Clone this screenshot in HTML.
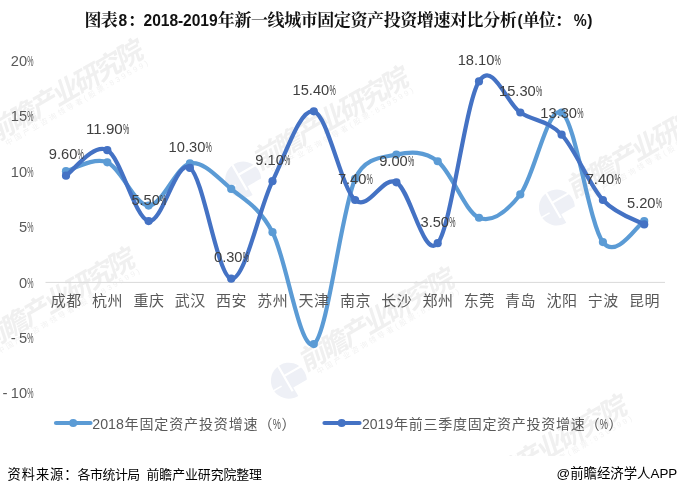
<!DOCTYPE html>
<html><head><meta charset="utf-8"><title>chart</title>
<style>
html,body{margin:0;padding:0;background:#fff}
#wrap{position:relative;width:677px;height:494px;overflow:hidden;background:#fff}
svg{position:absolute;left:0;top:0;display:block}
</style></head><body><div id="wrap">
<svg width="677" height="494" viewBox="0 0 677 494">
<rect width="677" height="494" fill="#fff"/>
<g id="wm">
<g transform="translate(1.5,128.1) rotate(-30)"><g transform="translate(-32.7,9.2)"><circle cx="0" cy="0" r="18" fill="#eef0f6"/><path d="M-2,-19 L-2,11" stroke="#fff" stroke-width="2.2" fill="none"/><path d="M-2,-6.5 L19,-6.5" stroke="#fff" stroke-width="2.2" fill="none"/><path d="M-19,1 L-9,1" stroke="#fff" stroke-width="1.6" fill="none"/><rect x="0.5" y="8" width="20" height="12" fill="#fff"/></g><text transform="skewX(-12)" x="-12" y="9.5" font-family="'Liberation Sans', 'Noto Sans CJK SC', sans-serif" font-weight="bold" font-size="27" textLength="174" fill="#f0f0f0">前瞻产业研究院</text><text x="-4" y="18.5" font-family="'Liberation Sans', 'Noto Sans CJK SC', sans-serif" font-size="7.5" textLength="163" fill="#f2f2f2">中国产业咨询领导者(股票:839599)</text></g>
<g transform="translate(266.9,155.3) rotate(-30)"><g transform="translate(-32.7,9.2)"><circle cx="0" cy="0" r="18" fill="#eef0f6"/><path d="M-2,-19 L-2,11" stroke="#fff" stroke-width="2.2" fill="none"/><path d="M-2,-6.5 L19,-6.5" stroke="#fff" stroke-width="2.2" fill="none"/><path d="M-19,1 L-9,1" stroke="#fff" stroke-width="1.6" fill="none"/><rect x="0.5" y="8" width="20" height="12" fill="#fff"/></g><text transform="skewX(-12)" x="-12" y="9.5" font-family="'Liberation Sans', 'Noto Sans CJK SC', sans-serif" font-weight="bold" font-size="27" textLength="174" fill="#f0f0f0">前瞻产业研究院</text><text x="-4" y="18.5" font-family="'Liberation Sans', 'Noto Sans CJK SC', sans-serif" font-size="7.5" textLength="163" fill="#f2f2f2">中国产业咨询领导者(股票:839599)</text></g>
<g transform="translate(580.6,183.2) rotate(-30)"><g transform="translate(-32.7,9.2)"><circle cx="0" cy="0" r="18" fill="#eef0f6"/><path d="M-2,-19 L-2,11" stroke="#fff" stroke-width="2.2" fill="none"/><path d="M-2,-6.5 L19,-6.5" stroke="#fff" stroke-width="2.2" fill="none"/><path d="M-19,1 L-9,1" stroke="#fff" stroke-width="1.6" fill="none"/><rect x="0.5" y="8" width="20" height="12" fill="#fff"/></g><text transform="skewX(-12)" x="-12" y="9.5" font-family="'Liberation Sans', 'Noto Sans CJK SC', sans-serif" font-weight="bold" font-size="27" textLength="174" fill="#f0f0f0">前瞻产业研究院</text><text x="-4" y="18.5" font-family="'Liberation Sans', 'Noto Sans CJK SC', sans-serif" font-size="7.5" textLength="163" fill="#f2f2f2">中国产业咨询领导者(股票:839599)</text></g>
<g transform="translate(-6.8,336.2) rotate(-30)"><g transform="translate(-32.7,9.2)"><circle cx="0" cy="0" r="18" fill="#eef0f6"/><path d="M-2,-19 L-2,11" stroke="#fff" stroke-width="2.2" fill="none"/><path d="M-2,-6.5 L19,-6.5" stroke="#fff" stroke-width="2.2" fill="none"/><path d="M-19,1 L-9,1" stroke="#fff" stroke-width="1.6" fill="none"/><rect x="0.5" y="8" width="20" height="12" fill="#fff"/></g><text transform="skewX(-12)" x="-12" y="9.5" font-family="'Liberation Sans', 'Noto Sans CJK SC', sans-serif" font-weight="bold" font-size="27" textLength="174" fill="#f0f0f0">前瞻产业研究院</text><text x="-4" y="18.5" font-family="'Liberation Sans', 'Noto Sans CJK SC', sans-serif" font-size="7.5" textLength="163" fill="#f2f2f2">中国产业咨询领导者(股票:839599)</text></g>
<g transform="translate(312.6,356.4) rotate(-30)"><g transform="translate(-32.7,9.2)"><circle cx="0" cy="0" r="18" fill="#eef0f6"/><path d="M-2,-19 L-2,11" stroke="#fff" stroke-width="2.2" fill="none"/><path d="M-2,-6.5 L19,-6.5" stroke="#fff" stroke-width="2.2" fill="none"/><path d="M-19,1 L-9,1" stroke="#fff" stroke-width="1.6" fill="none"/><rect x="0.5" y="8" width="20" height="12" fill="#fff"/></g><text transform="skewX(-12)" x="-12" y="9.5" font-family="'Liberation Sans', 'Noto Sans CJK SC', sans-serif" font-weight="bold" font-size="27" textLength="174" fill="#f0f0f0">前瞻产业研究院</text><text x="-4" y="18.5" font-family="'Liberation Sans', 'Noto Sans CJK SC', sans-serif" font-size="7.5" textLength="163" fill="#f2f2f2">中国产业咨询领导者(股票:839599)</text></g>
<g transform="translate(485.4,483.5) rotate(-30)"><g transform="translate(-32.7,9.2)"><circle cx="0" cy="0" r="18" fill="#eef0f6"/><path d="M-2,-19 L-2,11" stroke="#fff" stroke-width="2.2" fill="none"/><path d="M-2,-6.5 L19,-6.5" stroke="#fff" stroke-width="2.2" fill="none"/><path d="M-19,1 L-9,1" stroke="#fff" stroke-width="1.6" fill="none"/><rect x="0.5" y="8" width="20" height="12" fill="#fff"/></g><text transform="skewX(-12)" x="-12" y="9.5" font-family="'Liberation Sans', 'Noto Sans CJK SC', sans-serif" font-weight="bold" font-size="27" textLength="174" fill="#f0f0f0">前瞻产业研究院</text><text x="-4" y="18.5" font-family="'Liberation Sans', 'Noto Sans CJK SC', sans-serif" font-size="7.5" textLength="163" fill="#f2f2f2">中国产业咨询领导者(股票:839599)</text></g>
</g>
<rect x="0" y="456" width="677" height="38" fill="#fff"/>
<g font-weight="bold" fill="#111">
<g font-family="'Liberation Serif', 'Noto Serif CJK SC', serif" font-size="17">
<text x="84.4" y="26.3" textLength="33.4">图表</text>
<text x="127.8" y="26.3">：</text>
<text x="217.8" y="26.3" textLength="299">年新一线城市固定资产投资增速对比分析</text>
<text x="522.8" y="26.3" textLength="49">单位：</text>
</g>
<g font-family="'Liberation Sans', sans-serif" font-size="15.6">
<text x="118.6" y="25.9">8</text>
<text x="143.6" y="25.9" textLength="74">2018-2019</text>
<text x="517.4" y="25.9">(</text>
<text x="573.8" y="25.9" textLength="13" lengthAdjust="spacingAndGlyphs">%</text>
<text x="587.3" y="25.9">)</text>
</g></g>
<line x1="45.5" y1="282.4" x2="665" y2="282.4" stroke="#D9D9D9" stroke-width="1"/>
<path d="M66.00,171.20 C72.88,169.72 93.53,156.61 107.30,162.34 C121.07,168.06 134.83,205.36 148.60,205.55 C162.37,205.73 176.13,166.21 189.90,163.44 C203.67,160.67 217.43,177.48 231.20,188.93 C244.97,200.38 258.73,206.29 272.50,232.14 C286.27,257.99 300.03,352.91 313.80,344.05 C327.57,335.18 341.33,210.53 355.10,178.96 C364.68,156.98 382.63,157.53 396.40,154.58 C410.17,151.63 423.93,150.70 437.70,161.23 C451.47,171.75 465.23,212.20 479.00,217.74 C492.77,223.28 506.53,212.01 520.30,194.47 C534.07,176.92 547.83,104.54 561.60,112.48 C575.37,120.42 589.13,224.01 602.90,242.11 C616.67,260.21 637.32,224.57 644.20,221.06" fill="none" stroke="#5B9BD5" stroke-width="4.2" stroke-linecap="round" stroke-linejoin="round"/>
<circle cx="66.00" cy="171.20" r="4.1" fill="#5B9BD5"/><circle cx="107.30" cy="162.34" r="4.1" fill="#5B9BD5"/><circle cx="148.60" cy="205.55" r="4.1" fill="#5B9BD5"/><circle cx="189.90" cy="163.44" r="4.1" fill="#5B9BD5"/><circle cx="231.20" cy="188.93" r="4.1" fill="#5B9BD5"/><circle cx="272.50" cy="232.14" r="4.1" fill="#5B9BD5"/><circle cx="313.80" cy="344.05" r="4.1" fill="#5B9BD5"/><circle cx="355.10" cy="178.96" r="4.1" fill="#5B9BD5"/><circle cx="396.40" cy="154.58" r="4.1" fill="#5B9BD5"/><circle cx="437.70" cy="161.23" r="4.1" fill="#5B9BD5"/><circle cx="479.00" cy="217.74" r="4.1" fill="#5B9BD5"/><circle cx="520.30" cy="194.47" r="4.1" fill="#5B9BD5"/><circle cx="561.60" cy="112.48" r="4.1" fill="#5B9BD5"/><circle cx="602.90" cy="242.11" r="4.1" fill="#5B9BD5"/><circle cx="644.20" cy="221.06" r="4.1" fill="#5B9BD5"/>
<path d="M66.00,175.63 C72.88,171.38 93.53,142.58 107.30,150.15 C121.07,157.72 134.83,218.11 148.60,221.06 C162.37,224.01 176.13,158.27 189.90,167.88 C203.67,177.48 217.43,276.46 231.20,278.68 C244.97,280.89 258.73,209.06 272.50,181.17 C286.27,153.29 300.03,108.23 313.80,111.37 C327.57,114.51 341.33,188.19 355.10,200.01 C368.87,211.83 382.63,175.08 396.40,182.28 C410.17,189.48 423.93,260.02 437.70,243.22 C451.47,226.42 465.23,103.24 479.00,81.45 C492.77,59.66 506.53,103.61 520.30,112.48 C534.07,121.34 547.83,120.05 561.60,134.64 C575.37,149.22 589.13,185.05 602.90,200.01 C616.67,214.97 637.32,220.32 644.20,224.38" fill="none" stroke="#4472C4" stroke-width="4.2" stroke-linecap="round" stroke-linejoin="round"/>
<circle cx="66.00" cy="175.63" r="4.1" fill="#4472C4"/><circle cx="107.30" cy="150.15" r="4.1" fill="#4472C4"/><circle cx="148.60" cy="221.06" r="4.1" fill="#4472C4"/><circle cx="189.90" cy="167.88" r="4.1" fill="#4472C4"/><circle cx="231.20" cy="278.68" r="4.1" fill="#4472C4"/><circle cx="272.50" cy="181.17" r="4.1" fill="#4472C4"/><circle cx="313.80" cy="111.37" r="4.1" fill="#4472C4"/><circle cx="355.10" cy="200.01" r="4.1" fill="#4472C4"/><circle cx="396.40" cy="182.28" r="4.1" fill="#4472C4"/><circle cx="437.70" cy="243.22" r="4.1" fill="#4472C4"/><circle cx="479.00" cy="81.45" r="4.1" fill="#4472C4"/><circle cx="520.30" cy="112.48" r="4.1" fill="#4472C4"/><circle cx="561.60" cy="134.64" r="4.1" fill="#4472C4"/><circle cx="602.90" cy="200.01" r="4.1" fill="#4472C4"/><circle cx="644.20" cy="224.38" r="4.1" fill="#4472C4"/>
<g font-family="'Liberation Sans', sans-serif" font-size="15.20" fill="#595959">
<text x="10.79" y="66.0" textLength="16.31" lengthAdjust="spacingAndGlyphs">20</text><text x="27.30" y="66.0" textLength="6.3" lengthAdjust="spacingAndGlyphs">%</text>
<text x="10.79" y="121.4" textLength="16.31" lengthAdjust="spacingAndGlyphs">15</text><text x="27.30" y="121.4" textLength="6.3" lengthAdjust="spacingAndGlyphs">%</text>
<text x="10.79" y="176.8" textLength="16.31" lengthAdjust="spacingAndGlyphs">10</text><text x="27.30" y="176.8" textLength="6.3" lengthAdjust="spacingAndGlyphs">%</text>
<text x="18.94" y="232.2" textLength="8.16" lengthAdjust="spacingAndGlyphs">5</text><text x="27.30" y="232.2" textLength="6.3" lengthAdjust="spacingAndGlyphs">%</text>
<text x="18.94" y="287.6" textLength="8.16" lengthAdjust="spacingAndGlyphs">0</text><text x="27.30" y="287.6" textLength="6.3" lengthAdjust="spacingAndGlyphs">%</text>
<text x="10.64" y="343.0">-</text>
<text x="18.94" y="343.0" textLength="8.16" lengthAdjust="spacingAndGlyphs">5</text><text x="27.30" y="343.0" textLength="6.3" lengthAdjust="spacingAndGlyphs">%</text>
<text x="2.49" y="398.4">-</text>
<text x="10.79" y="398.4" textLength="16.31" lengthAdjust="spacingAndGlyphs">10</text><text x="27.30" y="398.4" textLength="6.3" lengthAdjust="spacingAndGlyphs">%</text>
</g>
<g font-family="'Liberation Sans', 'Noto Sans CJK SC', sans-serif" font-size="15" fill="#595959" text-anchor="middle" letter-spacing="0.5">
<text x="66.3" y="306.2">成都</text>
<text x="107.6" y="306.2">杭州</text>
<text x="148.9" y="306.2">重庆</text>
<text x="190.2" y="306.2">武汉</text>
<text x="231.5" y="306.2">西安</text>
<text x="272.8" y="306.2">苏州</text>
<text x="314.1" y="306.2">天津</text>
<text x="355.4" y="306.2">南京</text>
<text x="396.7" y="306.2">长沙</text>
<text x="438.0" y="306.2">郑州</text>
<text x="479.3" y="306.2">东莞</text>
<text x="520.6" y="306.2">青岛</text>
<text x="561.9" y="306.2">沈阳</text>
<text x="603.2" y="306.2">宁波</text>
<text x="644.5" y="306.2">昆明</text>
</g>
<g font-family="'Liberation Sans', sans-serif" font-size="15.20" fill="#404040">
<text x="48.78" y="159.3" textLength="28.55" lengthAdjust="spacingAndGlyphs">9.60</text><text x="77.52" y="159.3" textLength="6.3" lengthAdjust="spacingAndGlyphs">%</text>
<text x="86.00" y="133.8" textLength="36.70" lengthAdjust="spacingAndGlyphs">11.90</text><text x="122.90" y="133.8" textLength="6.3" lengthAdjust="spacingAndGlyphs">%</text>
<text x="131.38" y="204.8" textLength="28.55" lengthAdjust="spacingAndGlyphs">5.50</text><text x="160.12" y="204.8" textLength="6.3" lengthAdjust="spacingAndGlyphs">%</text>
<text x="168.60" y="151.6" textLength="36.70" lengthAdjust="spacingAndGlyphs">10.30</text><text x="205.50" y="151.6" textLength="6.3" lengthAdjust="spacingAndGlyphs">%</text>
<text x="213.98" y="262.4" textLength="28.55" lengthAdjust="spacingAndGlyphs">0.30</text><text x="242.72" y="262.4" textLength="6.3" lengthAdjust="spacingAndGlyphs">%</text>
<text x="255.28" y="164.9" textLength="28.55" lengthAdjust="spacingAndGlyphs">9.10</text><text x="284.02" y="164.9" textLength="6.3" lengthAdjust="spacingAndGlyphs">%</text>
<text x="292.50" y="95.1" textLength="36.70" lengthAdjust="spacingAndGlyphs">15.40</text><text x="329.40" y="95.1" textLength="6.3" lengthAdjust="spacingAndGlyphs">%</text>
<text x="337.88" y="183.7" textLength="28.55" lengthAdjust="spacingAndGlyphs">7.40</text><text x="366.62" y="183.7" textLength="6.3" lengthAdjust="spacingAndGlyphs">%</text>
<text x="379.18" y="166.0" textLength="28.55" lengthAdjust="spacingAndGlyphs">9.00</text><text x="407.92" y="166.0" textLength="6.3" lengthAdjust="spacingAndGlyphs">%</text>
<text x="420.48" y="226.9" textLength="28.55" lengthAdjust="spacingAndGlyphs">3.50</text><text x="449.22" y="226.9" textLength="6.3" lengthAdjust="spacingAndGlyphs">%</text>
<text x="457.70" y="65.2" textLength="36.70" lengthAdjust="spacingAndGlyphs">18.10</text><text x="494.60" y="65.2" textLength="6.3" lengthAdjust="spacingAndGlyphs">%</text>
<text x="499.00" y="96.2" textLength="36.70" lengthAdjust="spacingAndGlyphs">15.30</text><text x="535.90" y="96.2" textLength="6.3" lengthAdjust="spacingAndGlyphs">%</text>
<text x="540.30" y="118.3" textLength="36.70" lengthAdjust="spacingAndGlyphs">13.30</text><text x="577.20" y="118.3" textLength="6.3" lengthAdjust="spacingAndGlyphs">%</text>
<text x="585.68" y="183.7" textLength="28.55" lengthAdjust="spacingAndGlyphs">7.40</text><text x="614.42" y="183.7" textLength="6.3" lengthAdjust="spacingAndGlyphs">%</text>
<text x="626.98" y="208.1" textLength="28.55" lengthAdjust="spacingAndGlyphs">5.20</text><text x="655.72" y="208.1" textLength="6.3" lengthAdjust="spacingAndGlyphs">%</text>
</g>
<line x1="56" y1="423" x2="90.5" y2="423" stroke="#5B9BD5" stroke-width="4.2" stroke-linecap="round"/><circle cx="73.2" cy="423" r="4.1" fill="#5B9BD5"/>
<line x1="324.5" y1="423" x2="359.5" y2="423" stroke="#4472C4" stroke-width="4.2" stroke-linecap="round"/><circle cx="341.7" cy="423" r="4.1" fill="#4472C4"/>
<g fill="#595959" font-size="15.20">
<g font-family="'Liberation Sans', sans-serif">
<text x="92.3" y="428.6" textLength="31.6" lengthAdjust="spacingAndGlyphs">2018</text>
<text x="272.80" y="428.6" textLength="8.2" lengthAdjust="spacingAndGlyphs">%</text>
<text x="362" y="428.6" textLength="31.2" lengthAdjust="spacingAndGlyphs">2019</text>
<text x="599.80" y="428.6" textLength="8.2" lengthAdjust="spacingAndGlyphs">%</text>
</g>
<g font-family="'Liberation Sans', 'Noto Sans CJK SC', sans-serif" font-size="14">
<text x="124.5" y="428.6" textLength="148" lengthAdjust="spacing">年固定资产投资增速（</text>
<text x="281.5" y="428.6">）</text>
<text x="394" y="428.6" textLength="205.5" lengthAdjust="spacing">年前三季度固定资产投资增速（</text>
<text x="608.5" y="428.6">）</text>
</g></g>
<g font-family="'Liberation Sans', 'Noto Sans CJK SC', sans-serif" fill="#000">
<text x="7.5" y="478.6" font-size="13.2" textLength="70">资料来源：</text>
<text x="77.6" y="478.6" font-size="12.9" textLength="62.6">各市统计局</text>
<text x="146.5" y="478.6" font-size="12.9" textLength="115.5">前瞻产业研究院整理</text>
<text x="677.3" y="478.2" font-size="13.4" text-anchor="end">@前瞻经济学人APP</text>
</g>
</svg>
</div></body></html>
